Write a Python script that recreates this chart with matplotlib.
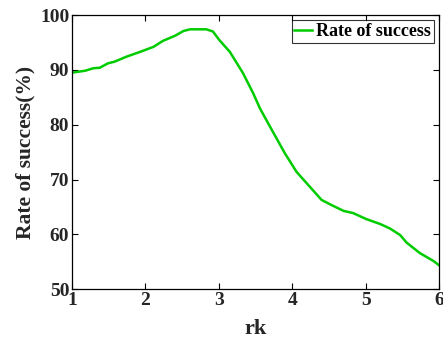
import matplotlib
matplotlib.use("Agg")
import matplotlib.pyplot as plt

# curve
rk = [1.00, 1.18, 1.29, 1.38, 1.49, 1.58, 1.74, 1.93, 2.11, 2.24, 2.40, 2.52,
      2.61, 2.83, 2.92, 3.01, 3.15, 3.33, 3.47, 3.56, 3.70, 3.90, 4.06, 4.22,
      4.40, 4.56, 4.70, 4.83, 5.01, 5.20, 5.33, 5.47, 5.56, 5.74, 5.92, 6.00]
success = [89.5, 89.85, 90.3, 90.4, 91.2, 91.5, 92.4, 93.3, 94.2, 95.3, 96.2, 97.1,
           97.4, 97.4, 97.0, 95.4, 93.3, 89.4, 85.7, 83.0, 79.6, 74.8, 71.4, 69.0,
           66.3, 65.2, 64.3, 63.9, 62.8, 61.9, 61.1, 59.9, 58.5, 56.6, 55.2, 54.4]

xticks = [1, 2, 3, 4, 5, 6]
yticks = [50, 60, 70, 80, 90, 100]

LINE_C = "#00cc00"
TEXT_C = "#262626"

plt.rcParams.update({
    "font.family": ["Liberation Serif", "DejaVu Serif"],
    "font.weight": "bold",
    "font.size": 14,
    "axes.labelweight": "bold",
    "text.color": TEXT_C,
    "axes.labelcolor": TEXT_C,
    "xtick.labelcolor": TEXT_C,
    "ytick.labelcolor": TEXT_C,
})

fig = plt.figure(figsize=(4.43, 3.42), dpi=100)
ax = fig.add_axes([0.1625, 0.154, 0.8285, 0.802])

ax.plot(rk, success, color=LINE_C, lw=1.8, label="Rate of success")

ax.set_xlim(1, 6)
ax.set_ylim(50, 100)
ax.set_xticks(xticks)
ax.set_yticks(yticks)
ax.tick_params(direction="in", length=4, width=0.8, top=True, right=True,
               labelsize=14, pad=2)
for s in ax.spines.values():
    s.set_linewidth(0.9)

ax.set_xlabel("rk", fontsize=16, labelpad=7)
ax.set_ylabel("Rate of success(%)", fontsize=15.5, labelpad=3)

leg = ax.legend(loc="upper right", frameon=True, fancybox=False,
                handlelength=1.0, handletextpad=0.2, borderpad=0.15,
                borderaxespad=0.3, prop={"weight": "bold", "size": 13})
leg.get_frame().set_edgecolor("black")
leg.get_frame().set_linewidth(0.8)
for t in leg.get_texts():
    t.set_color("black")

fig.savefig("out.png", dpi=100)
